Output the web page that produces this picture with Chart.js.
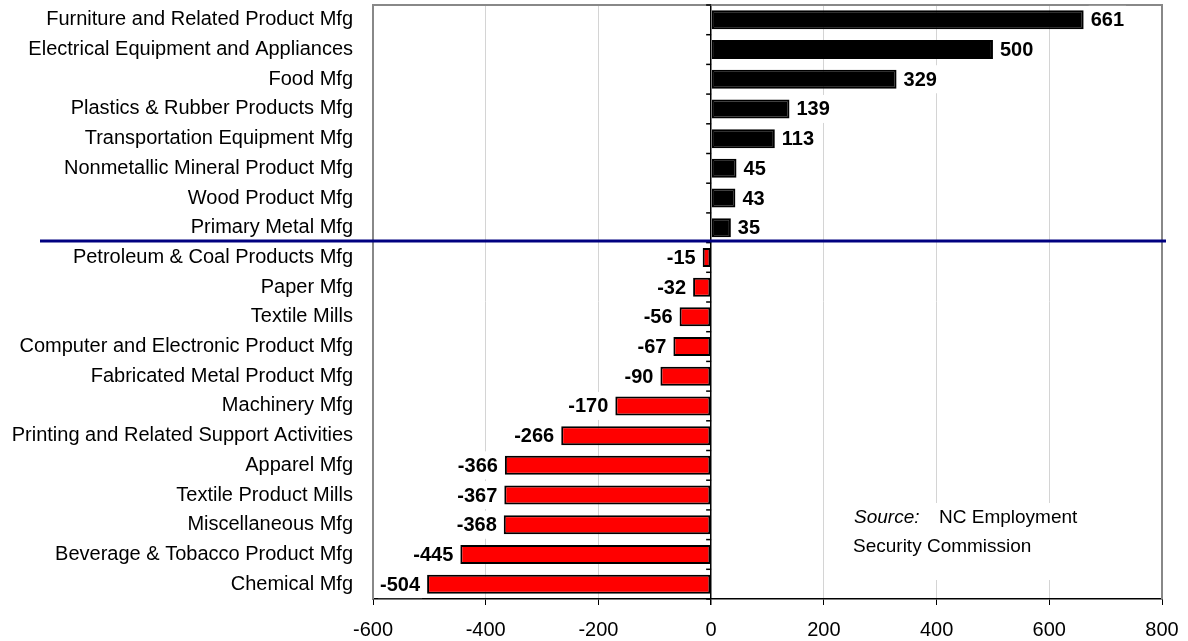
<!DOCTYPE html>
<html>
<head>
<meta charset="utf-8">
<script src="https://cdn.jsdelivr.net/npm/chart.js@4/dist/chart.umd.min.js"></script>
<style>
  body { margin: 0; background: #fff; }
  #wrap { position: absolute; left: 0; top: 0; width: 1188px; height: 641px; }
</style>
</head>
<body>
<div id="wrap"><canvas id="mfg-chart"></canvas></div>
<script>
const industries = [
  "Furniture and Related Product Mfg",
  "Electrical Equipment and Appliances",
  "Food Mfg",
  "Plastics & Rubber Products Mfg",
  "Transportation Equipment Mfg",
  "Nonmetallic Mineral Product Mfg",
  "Wood Product Mfg",
  "Primary Metal Mfg",
  "Petroleum & Coal Products Mfg",
  "Paper Mfg",
  "Textile Mills",
  "Computer and Electronic Product Mfg",
  "Fabricated Metal Product Mfg",
  "Machinery Mfg",
  "Printing and Related Support Activities",
  "Apparel Mfg",
  "Textile Product Mills",
  "Miscellaneous Mfg",
  "Beverage & Tobacco Product Mfg",
  "Chemical Mfg",
];
const changes = [661, 500, 329, 139, 113, 45, 43, 35, -15, -32, -56, -67, -90, -170, -266, -366, -367, -368, -445, -504];
const xMin = -600;
const xMax = 800;
const xStep = 200;
const sourceLines = ["NC Employment", "Security Commission"];

const FONT = "'Liberation Sans', Arial, sans-serif";

// frame, source box, value labels, blue divider, ticks on the zero line
const decorations = {
  id: "decorations",
  beforeDatasetsDraw(chart) {
    const { ctx, chartArea: a } = chart;
    ctx.save();
    // white box behind the source note
    ctx.fillStyle = "#fff";
    ctx.fillRect(a.left + 454, a.top + 498, a.right - a.left - 456, 77);
    // gray frame
    ctx.strokeStyle = "#888";
    ctx.lineWidth = 2;
    ctx.beginPath();
    ctx.moveTo(a.left, a.bottom);
    ctx.lineTo(a.left, a.top);
    ctx.lineTo(a.right, a.top);
    ctx.lineTo(a.right, a.bottom);
    ctx.stroke();
    ctx.restore();
  },
  afterDatasetsDraw(chart) {
    const { ctx, chartArea: a } = chart;
    const xs = chart.scales.x;
    const ys = chart.scales.y;
    const zero = xs.getPixelForValue(0);
    ctx.save();

    // small ticks left of the zero line at category boundaries
    ctx.strokeStyle = "#000";
    ctx.lineWidth = 1.5;
    for (let i = 0; i <= industries.length; i++) {
      const y = ys.getPixelForValue(i - 0.5);
      ctx.beginPath();
      ctx.moveTo(zero - 5, y);
      ctx.lineTo(zero, y);
      ctx.stroke();
    }

    // value labels
    ctx.font = "bold 20px " + FONT;
    ctx.textBaseline = "middle";
    changes.forEach((v, i) => {
      const y = ys.getPixelForValue(i);
      const end = xs.getPixelForValue(v);
      const txt = String(v);
      const w = ctx.measureText(txt).width;
      const x = v >= 0 ? end + 7 : end - 7 - w;
      ctx.fillStyle = "#fff";
      ctx.fillRect(x - 2, y - 14, w + 4, 28);
      ctx.fillStyle = "#000";
      ctx.textAlign = "left";
      ctx.fillText(txt, x, y + 1);
    });

    // blue divider between gains and losses
    const split = changes.findIndex((v) => v < 0);
    const yDiv = ys.getPixelForValue(split - 0.5) - 1.5;
    ctx.strokeStyle = "#000080";
    ctx.lineWidth = 3;
    ctx.beginPath();
    ctx.moveTo(40, yDiv);
    ctx.lineTo(a.right + 4, yDiv);
    ctx.stroke();

    // source note
    ctx.fillStyle = "#000";
    ctx.textAlign = "left";
    ctx.font = "italic 19px " + FONT;
    ctx.fillText("Source:", a.left + 481, a.top + 513);
    ctx.font = "19px " + FONT;
    ctx.fillText(sourceLines[0], a.left + 566, a.top + 513);
    ctx.fillText(sourceLines[1], a.left + 480, a.top + 542);
    ctx.restore();
  },
};

const ctx = document.getElementById("mfg-chart").getContext("2d");

new Chart(ctx, {
  type: "bar",
  data: {
    labels: industries,
    datasets: [
      {
        data: changes,
        backgroundColor: changes.map((v) => (v >= 0 ? "#000000" : "#ff0000")),
        borderColor: "#000000",
        borderWidth: 2,
        borderSkipped: false,
        barPercentage: 0.64,
        categoryPercentage: 1.0,
      },
    ],
  },
  options: {
    indexAxis: "y",
    responsive: true,
    maintainAspectRatio: false,
    animation: false,
    layout: { padding: { top: 5, right: 26, left: 0, bottom: 0 } },
    plugins: {
      legend: { display: false },
      tooltip: { enabled: false },
    },
    scales: {
      x: {
        min: xMin,
        max: xMax,
        afterFit: (scale) => {
          scale.height = 42;
          scale.paddingLeft = 0;
          scale.paddingRight = 0;
        },
        ticks: {
          stepSize: xStep,
          color: "#000",
          padding: 13,
          font: { family: FONT, size: 20 },
        },
        grid: {
          color: (c) => {
            const v = c.tick ? c.tick.value : null;
            if (v === 0) return "#000";
            if (v === xMin || v === xMax) return "rgba(0,0,0,0)";
            return "#d4d4d4";
          },
          lineWidth: (c) => (c.tick && c.tick.value === 0 ? 1.5 : 1),
          tickColor: "#000",
          tickLength: 6,
        },
        border: { display: true, color: "#000", width: 1.5 },
      },
      y: {
        afterFit: (scale) => {
          scale.width = 373;
          scale.paddingTop = 0;
          scale.paddingBottom = 0;
        },
        ticks: {
          color: "#000",
          padding: 20,
          autoSkip: false,
          font: { family: FONT, size: 20 },
        },
        grid: { display: false, drawTicks: false },
        border: { display: false },
      },
    },
  },
  plugins: [decorations],
});
</script>
</body>
</html>
